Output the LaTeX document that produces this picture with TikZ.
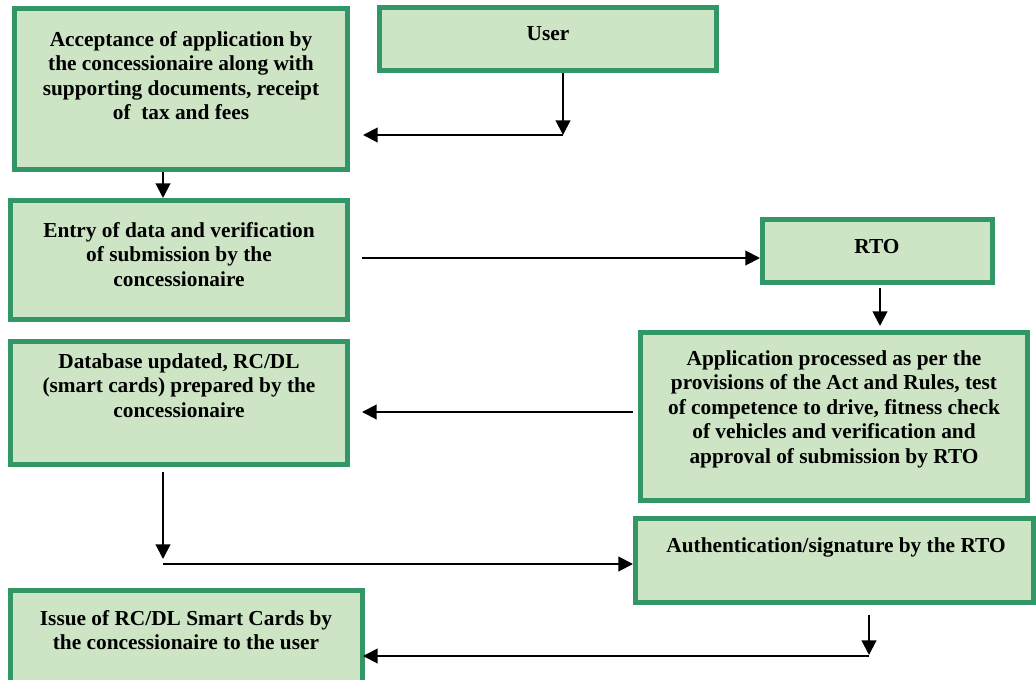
\documentclass[tikz,border=0pt]{standalone}
\usepackage{fontspec}
\setmainfont{Liberation Serif}
\usetikzlibrary{arrows.meta,fit}
\definecolor{boxgreen}{RGB}{51,150,102}
\definecolor{boxfill}{RGB}{205,229,196}
\begin{document}
\begin{tikzpicture}[x=0.75pt,y=-0.75pt,
  box/.style={draw=boxgreen, fill=boxfill, line width=3.75pt, inner sep=0pt, outer sep=1.875pt},
  txt/.style={font=\fontsize{16}{18.4}\selectfont\bfseries, align=center, inner sep=0pt, anchor=north, yshift=12.88pt},
  arr/.style={line width=1.5pt, -{Triangle[length=11pt,width=11pt]}},
  ln/.style={line width=1.5pt}]
\useasboundingbox (0,0) rectangle (1036,679);

% boxes (centre lines of the borders)
\node[box, fit={(14.5,8.5)(347.5,169.5)}] (acc) {};
\node[box, fit={(379.5,7.5)(716.5,70.5)}] (user) {};
\node[box, fit={(10.5,200.5)(347.5,319.5)}] (entry) {};
\node[box, fit={(762.5,219.5)(992.5,282.5)}] (rto) {};
\node[box, fit={(640.5,332.5)(1027.5,500.5)}] (app) {};
\node[box, fit={(10.5,341.5)(347.5,464.5)}] (db) {};
\node[box, fit={(635.5,518.5)(1033.5,602.5)}] (auth) {};
\node[box, fit={(10.5,590.5)(362.5,690)}] (issue) {};

% texts
\node[txt] (t1) at (181,46) {\strut Acceptance of application by\\the concessionaire along with\\supporting documents, receipt\\of\ \ tax and fees};
\node[txt] (t2) at (548,40) {\strut User};
\node[txt] (t3) at (179,237) {\strut Entry of data and verification\\of submission by the\\concessionaire};
\node[txt] (t4) at (877,253) {\strut RTO};
\node[txt] (t5) at (834,365) {\strut Application processed as per the\\provisions of the Act and Rules, test\\of competence to drive, fitness check\\of vehicles and verification and\\approval of submission by RTO};
\node[txt] (t6) at (179,368) {\strut Database updated, RC/DL\\(smart cards) prepared by the\\concessionaire};
\node[txt] (t7) at (836,552) {\strut Authentication/signature by the RTO};
\node[txt] (t8) at (186,625) {\strut Issue of RC/DL Smart Cards by\\the concessionaire to the user};

% connector points
\coordinate (u1) at (563,135);
\coordinate (u2) at (363,135);
\coordinate (x163) at (163,0);
\coordinate (e1) at (362,258);
\coordinate (r1) at (880,288);
\coordinate (r2) at (880,326);
\coordinate (p1) at (633,412);
\coordinate (p2) at (362,412);
\coordinate (d1) at (163,472);
\coordinate (d2) at (163,559);
\coordinate (d3) at (163,564);
\coordinate (h1) at (869,615);
\coordinate (h2) at (869,655);
\coordinate (h3) at (869,656);
\coordinate (h4) at (363,656);

% connectors
\draw[arr] (user.south -| u1) -- (u1);
\draw[arr] (u1) -- (u2);
\draw[arr] (acc.south -| x163) -- (entry.north -| x163);
\draw[arr] (e1) -- (rto.west |- e1);
\draw[arr] (r1) -- (r2);
\draw[arr] (p1) -- (p2);
\draw[arr] (d1) -- (d2);
\draw[arr] (d3) -- (auth.west |- d3);
\draw[arr] (h1) -- (h2);
\draw[arr] (h3) -- (h4);
\end{tikzpicture}
\end{document}
